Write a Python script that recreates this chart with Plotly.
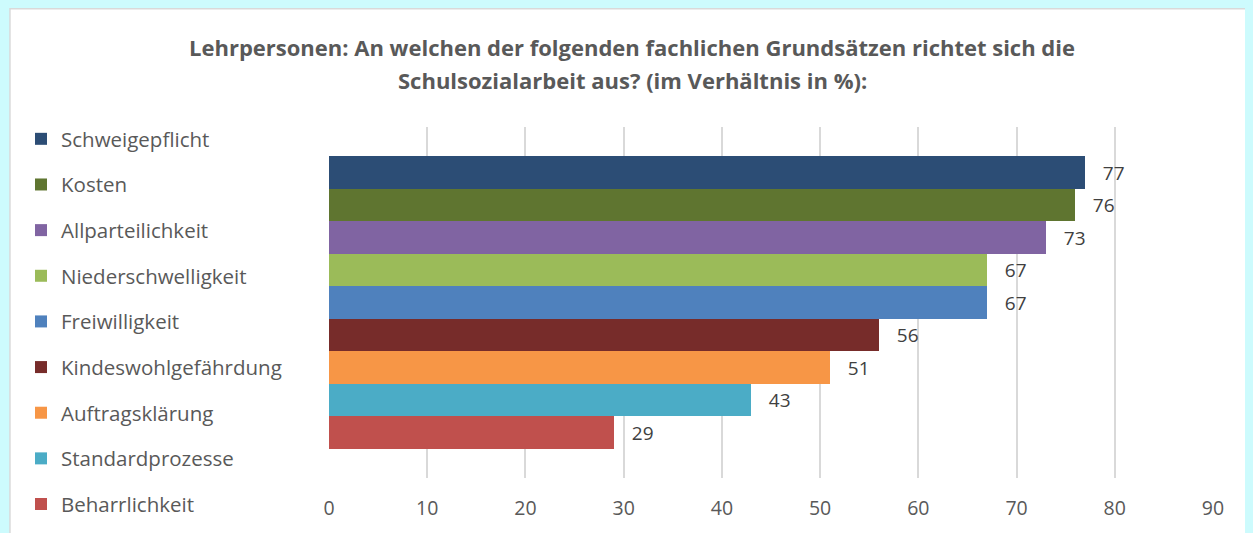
import plotly.graph_objects as go

# Werte aus dem Diagramm (Lehrpersonen, in %)
categories = ['Schweigepflicht', 'Kosten', 'Allparteilichkeit', 'Niederschwelligkeit',
              'Freiwilligkeit', 'Kindeswohlgefährdung', 'Auftragsklärung',
              'Standardprozesse', 'Beharrlichkeit']
values = [77, 76, 73, 67, 67, 56, 51, 43, 29]
colors = ['#2C4D75', '#5F7530', '#8064A2', '#9BBB59', '#4F81BD',
          '#772C2A', '#F79646', '#4BACC6', '#C0504D']
x_ticks = [0, 10, 20, 30, 40, 50, 60, 70, 80, 90]

title_lines = ['Lehrpersonen: An welchen der folgenden fachlichen Grundsätzen richtet sich die',
               'Schulsozialarbeit aus? (im Verhältnis in %):']

FONT = 'Open Sans'
BG = '#CDFBFD'
W, H = 1245, 525  # page body has an 8px margin

fig = go.Figure()
for name, val, col in zip(categories, values, colors):
    fig.add_trace(go.Bar(
        name=name, y=[0], x=[val], orientation='h',
        marker=dict(color=col, line=dict(width=0)),
        text=[val], texttemplate='   %{text}', textposition='outside',
        textfont=dict(size=19, color='#404040', family=FONT),
        cliponaxis=False, legendgroup=name,
    ))

# Titel als zwei Zeilen (Zeilenabstand wie im Original)
for line, ypos in zip(title_lines, [1.2266, 1.133]):
    fig.add_annotation(text=f'<b>{line}</b>', xref='paper', yref='paper',
                       x=0.343, y=ypos, xanchor='center', yanchor='middle',
                       showarrow=False,
                       font=dict(size=22, color='#595959', family=FONT))

fig.update_layout(
    width=W, height=H,
    paper_bgcolor=BG, plot_bgcolor='white',
    margin=dict(l=321, r=40, t=119, b=53),
    barmode='group', bargap=0, bargroupgap=0,
    font=dict(family=FONT, color='#595959'),
    legend=dict(xref='container', yref='container', x=13 / W, xanchor='left',
                y=1 - 111 / H, yanchor='top', maxheight=1,
                traceorder='grouped', tracegroupgap=16,
                font=dict(size=20.5, color='#595959', family=FONT),
                bgcolor='rgba(0,0,0,0)'),
    shapes=[dict(type='rect', xref='paper', yref='paper',
                 x0=-0.3609, x1=1.043, y0=-0.2, y1=1.337,
                 fillcolor='white', line=dict(color='#D9D9D9', width=1.5),
                 layer='below')],
)

fig.update_xaxes(range=[0, 90], tickvals=x_ticks, showgrid=True,
                 gridcolor='#D9D9D9', gridwidth=1.5, zeroline=False, showline=False,
                 ticks='outside', ticklen=13, tickcolor='rgba(0,0,0,0)',
                 tickfont=dict(size=19.5, color='#595959', family=FONT))
fig.update_yaxes(range=[0.6, -0.6], showticklabels=False, showgrid=False,
                 zeroline=False, showline=False)

fig.write_html("out.html", post_script=f"document.body.style.background='{BG}';")
